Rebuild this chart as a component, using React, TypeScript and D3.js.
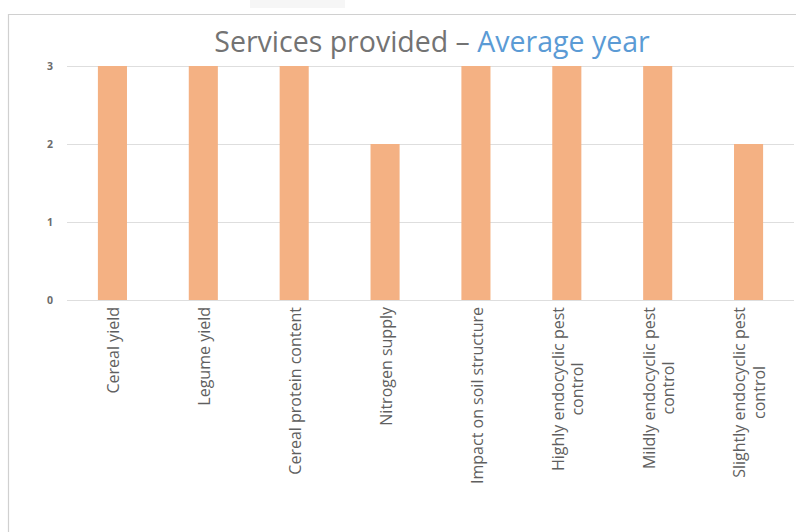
import React, { useEffect, useRef } from 'react'
import * as d3 from 'd3'

// Chart values
const categories: string[][] = [
  ['Cereal yield'],
  ['Legume yield'],
  ['Cereal protein content'],
  ['Nitrogen supply'],
  ['Impact on soil structure'],
  ['Highly endocyclic pest', 'control'],
  ['Mildly endocyclic pest', 'control'],
  ['Slightly endocyclic pest', 'control']
]
const scores: number[] = [3, 3, 3, 2, 3, 3, 3, 2]
const yTicks: number[] = [0, 1, 2, 3]
const titleMain = 'Services provided – '
const titleAccent = 'Average year'

const W = 796
const H = 532
const FONT = '"Open Sans", Lato, sans-serif'

const App: React.FC = () => {
  const svgRef = useRef<SVGSVGElement>(null)

  useEffect(() => {
    if (!svgRef.current) return
    const svg = d3.select(svgRef.current)
    svg.selectAll('*').remove()

    const plot = { left: 67, right: 794, top: 66, bottom: 300 }

    // faint strip of the element above the chart
    svg.append('rect')
      .attr('x', 250).attr('y', 0).attr('width', 95).attr('height', 8)
      .attr('fill', '#f6f6f6')

    // chart frame (cropped on the right and bottom)
    svg.append('path')
      .attr('d', `M8.5,${H} V14.5 H${W}`)
      .attr('fill', 'none')
      .attr('stroke', '#d0d0d0')
      .attr('stroke-width', 1.2)

    const x = d3.scaleBand<number>()
      .domain(d3.range(categories.length))
      .range([plot.left, plot.right])
      .paddingInner(0.68)
      .paddingOuter(0.34)

    const y = d3.scaleLinear()
      .domain([0, 3])
      .range([plot.bottom, plot.top])

    // gridlines + y tick labels
    const grid = svg.append('g')
    grid.selectAll('line')
      .data(yTicks)
      .enter()
      .append('line')
      .attr('x1', plot.left)
      .attr('x2', plot.right)
      .attr('y1', d => Math.round(y(d)) + 0.5)
      .attr('y2', d => Math.round(y(d)) + 0.5)
      .attr('stroke', '#dedede')
      .attr('stroke-width', 1)

    grid.selectAll('text')
      .data(yTicks)
      .enter()
      .append('text')
      .attr('x', 53)
      .attr('y', d => y(d))
      .attr('dy', '0.35em')
      .attr('text-anchor', 'end')
      .style('font-family', FONT)
      .style('font-size', '10.5px')
      .style('font-weight', 'bold')
      .style('fill', '#6b6b6b')
      .text(d => String(d))

    // bars
    svg.append('g')
      .selectAll('rect')
      .data(scores)
      .enter()
      .append('rect')
      .attr('x', (_, i) => x(i) ?? 0)
      .attr('width', x.bandwidth())
      .attr('y', d => y(d))
      .attr('height', d => y(0) - y(d))
      .attr('fill', '#F4B183')

    // rotated category labels, multi-line ones centred on the longest line
    const labelTop = 307
    const lineH = 19.5
    const labels = svg.append('g')
    categories.forEach((lines, i) => {
      const cx = (x(i) ?? 0) + x.bandwidth() / 2 + 1
      const g = labels.append('g')
        .attr('transform', `translate(${cx},${labelTop}) rotate(-90)`)
      const texts = lines.map((line, k) =>
        g.append('text')
          .attr('y', (k - (lines.length - 1) / 2) * lineH)
          .attr('dy', '0.35em')
          .attr('text-anchor', 'middle')
          .style('font-family', FONT)
          .style('font-size', '16px')
          .style('fill', '#5f5f5f')
          .text(line)
      )
      const maxLen = d3.max(texts, t => (t.node() as SVGTextElement).getComputedTextLength()) ?? 0
      texts.forEach(t => t.attr('x', -maxLen / 2))
    })

    // title
    const title = svg.append('text')
      .attr('x', 432)
      .attr('y', 52)
      .attr('text-anchor', 'middle')
      .style('font-family', FONT)
      .style('font-size', '28.5px')
    title.append('tspan').style('fill', '#737373').text(titleMain)
    title.append('tspan').style('fill', '#5B9BD5').text(titleAccent)
  }, [])

  return (
    <div style={{ position: 'absolute', left: 0, top: 0, background: '#fff' }}>
      <svg ref={svgRef} width={W} height={H} style={{ display: 'block' }} />
    </div>
  )
}

export default App
